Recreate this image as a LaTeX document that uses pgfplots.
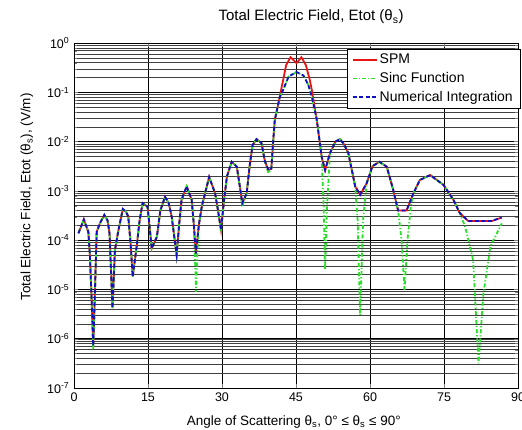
\documentclass[border=0pt]{standalone}
\usepackage{pgfplots}
\pgfplotsset{compat=1.18}
\usepackage{fontspec}
\setmainfont{Liberation Sans}
\definecolor{spmred}{RGB}{235,20,20}
\definecolor{sincgreen}{RGB}{40,225,40}
\definecolor{numblue}{RGB}{15,15,195}
\begin{document}
\fontsize{13.5}{16}\selectfont
\begin{tikzpicture}
\begin{axis}[at={(0,0)},anchor=south west,scale only axis,width=444pt,height=345pt,
  ymode=log,xmin=0,xmax=90,ymin=1e-7,ymax=1,
  xtick={0,15,30,45,60,75,90},
  ytick={1e-7,1e-6,1e-5,1e-4,1e-3,1e-2,1e-1,1},
  yticklabels={10\textsuperscript{-7},10\textsuperscript{-6},10\textsuperscript{-5},10\textsuperscript{-4},10\textsuperscript{-3},10\textsuperscript{-2},10\textsuperscript{-1},10\textsuperscript{0}},
  /pgf/number format/assume math mode=true,
  tick label style={font=\fontsize{12.5}{15}\selectfont},
  grid=both,minor x tick num=0,
  major grid style={black,line width=0.6pt},
  minor grid style={black!75,line width=0.4pt},
  tick align=inside,axis line style={black,line width=0.6pt},
  title={Total Electric Field, Etot (θ\textsubscript{s})},
  title style={at={(axis description cs:0.534,1)},anchor=base,yshift=16pt,inner sep=0pt,font=\fontsize{15}{18}\selectfont},
  xlabel={Angle of Scattering θ\textsubscript{s}, 0° ≤ θ\textsubscript{s} ≤ 90°},
  xlabel style={at={(axis description cs:0.495,0)},anchor=base,yshift=-37pt,inner sep=0pt},
  ylabel={Total Electric Field, Etot (θ\textsubscript{s}), (V/m)},
  ylabel style={at={(axis description cs:-0.106,0.554)},anchor=center,inner sep=0pt},
  legend style={at={(axis description cs:1,1)},anchor=north east,xshift=2pt,yshift=-6pt,
    draw=black,fill=white,font=\fontsize{14}{16}\selectfont,row sep=2.5pt,inner xsep=5pt,inner ysep=3pt},
  legend cell align=left,
  legend image code/.code={\draw[#1] (0pt,0pt) -- (24pt,0pt);},
]
% SPM
\addplot[spmred,line width=1.8pt] table {
x y
0.9 1.38e-4
2.0 2.63e-4
2.9 1.48e-4
3.2 5.37e-5
3.5 1.0e-5
3.9 7.1e-7
4.2 6.3e-6
4.6 1.48e-4
5.3 2.24e-4
6.15 3.24e-4
6.8 2.51e-4
7.2 1.38e-4
7.5 2.51e-5
7.8 4.17e-6
8.3 6.31e-5
9.0 1.58e-4
9.9 4.27e-4
10.5 3.8e-4
11.0 3.02e-4
11.5 7.94e-5
11.9 1.82e-5
12.7 7.41e-5
13.3 2.51e-4
13.9 5.62e-4
14.9 4.79e-4
15.3 2.0e-4
15.75 6.76e-5
16.8 1.17e-4
17.5 3.98e-4
18.45 7.59e-4
19.2 5.62e-4
19.8 3.02e-4
20.8 5.01e-5
21.3 2.0e-4
21.8 6.61e-4
22.84 1.23e-3
23.85 6.61e-4
24.3 2.0e-4
24.7 5.37e-5
25.3 2.0e-4
25.9 4.79e-4
27.4 1.91e-3
28.6 8.91e-4
29.2 3.98e-4
29.8 1.62e-4
30.4 6.31e-4
31.0 1.95e-3
31.96 3.89e-3
33.0 3.09e-3
33.6 1.26e-3
34.1 5.62e-4
35.0 8.91e-4
35.6 3.16e-3
36.2 8.51e-3
37.0 1.12e-2
38.0 9.33e-3
38.7 3.98e-3
39.4 2.63e-3
40.0 2.82e-3
40.3 7.94e-3
40.7 2.75e-2
41.7 7.94e-2
42.1 0.129
42.4 0.178
43.0 0.355
43.9 0.513
45.1 0.389
46.1 0.513
47.0 0.355
47.8 0.178
48.2 0.112
49.2 2.82e-2
50.2 4.9e-3
50.9 2.63e-3
51.9 5.89e-3
53.0 1.0e-2
53.9 1.12e-2
54.7 8.91e-3
55.6 5.89e-3
57.0 1.23e-3
58.0 8.32e-4
59.3 1.41e-3
60.5 3.16e-3
61.9 3.89e-3
63.4 3.09e-3
64.7 1.05e-3
65.7 3.98e-4
67.4 3.98e-4
68.8 8.91e-4
70.1 1.66e-3
72.2 2.09e-3
74.9 1.32e-3
76.9 6.61e-4
78.2 3.55e-4
79.9 2.45e-4
84.7 2.45e-4
86.7 2.88e-4
};
\addlegendentry{SPM}
% Sinc function
\addplot[sincgreen,line width=1.8pt,dash pattern=on 4pt off 2pt on 1.2pt off 2pt] table {
x y
0.9 1.38e-4
2.0 2.63e-4
2.9 1.48e-4
3.2 5.37e-5
3.5 1.0e-5
3.9 5.9e-7
4.2 6.3e-6
4.6 1.48e-4
5.3 2.24e-4
6.15 3.24e-4
6.8 2.51e-4
7.2 1.38e-4
7.5 2.51e-5
7.8 4.17e-6
8.3 6.31e-5
9.0 1.58e-4
9.9 4.27e-4
10.5 3.8e-4
11.0 3.02e-4
11.5 7.94e-5
11.9 1.82e-5
12.7 7.41e-5
13.3 2.51e-4
13.9 5.62e-4
14.9 4.79e-4
15.3 2.0e-4
15.75 6.76e-5
16.8 1.17e-4
17.5 3.98e-4
18.45 7.59e-4
19.2 5.62e-4
19.8 3.02e-4
20.8 5.01e-5
21.3 2.0e-4
21.8 6.61e-4
22.84 1.23e-3
23.85 6.61e-4
24.3 2.0e-4
24.5 5.01e-5
24.75 8.9e-6
25.0 5.01e-5
25.3 2.0e-4
25.9 4.79e-4
27.4 1.91e-3
28.6 8.91e-4
29.2 3.98e-4
29.8 1.48e-4
30.4 6.31e-4
31.0 1.95e-3
31.96 3.89e-3
33.0 3.09e-3
33.6 1.26e-3
34.1 4.79e-4
35.0 8.91e-4
35.6 3.16e-3
36.2 8.51e-3
37.0 1.12e-2
38.0 9.33e-3
38.7 3.98e-3
39.4 2.29e-3
40.0 2.82e-3
40.3 7.94e-3
40.7 2.75e-2
41.7 7.94e-2
42.4 0.112
43.5 0.209
45.1 0.257
46.5 0.219
47.5 0.141
48.2 8.13e-2
49.2 2.82e-2
50.2 4.9e-3
50.6 5.01e-4
50.9 2.51e-5
51.3 5.01e-4
51.9 5.89e-3
53.0 1.0e-2
53.9 1.12e-2
54.7 8.91e-3
55.6 5.89e-3
57.0 1.23e-3
57.5 2.51e-4
58.0 3.02e-6
58.6 2.51e-4
59.3 1.41e-3
60.5 3.16e-3
61.9 3.89e-3
63.4 3.09e-3
64.7 1.05e-3
65.7 3.98e-4
66.4 1.0e-4
67.0 9.77e-6
67.6 1.0e-4
68.3 5.01e-4
68.8 8.91e-4
70.1 1.66e-3
72.2 2.09e-3
74.9 1.32e-3
76.9 6.61e-4
78.2 3.55e-4
79.3 1.86e-4
80.9 3.98e-5
82.0 3.16e-7
83.0 8.32e-6
84.4 7.41e-5
86.7 2.19e-4
};
\addlegendentry{Sinc Function}
% Numerical integration
\addplot[numblue,line width=1.8pt,dash pattern=on 4pt off 2.5pt] table {
x y
0.9 1.38e-4
2.0 2.63e-4
2.9 1.48e-4
3.2 5.37e-5
3.5 1.0e-5
3.9 7.1e-7
4.2 6.3e-6
4.6 1.48e-4
5.3 2.24e-4
6.15 3.24e-4
6.8 2.51e-4
7.2 1.38e-4
7.5 2.51e-5
7.8 4.17e-6
8.3 6.31e-5
9.0 1.58e-4
9.9 4.27e-4
10.5 3.8e-4
11.0 3.02e-4
11.5 7.94e-5
11.9 1.82e-5
12.7 7.41e-5
13.3 2.51e-4
13.9 5.62e-4
14.9 4.79e-4
15.3 2.0e-4
15.75 6.76e-5
16.8 1.17e-4
17.5 3.98e-4
18.45 7.59e-4
19.2 5.62e-4
19.8 3.02e-4
20.8 5.01e-5
21.3 2.0e-4
21.8 6.61e-4
22.84 1.23e-3
23.85 6.61e-4
24.3 2.0e-4
24.7 5.37e-5
25.3 2.0e-4
25.9 4.79e-4
27.4 1.91e-3
28.6 8.91e-4
29.2 3.98e-4
29.8 1.62e-4
30.4 6.31e-4
31.0 1.95e-3
31.96 3.89e-3
33.0 3.09e-3
33.6 1.26e-3
34.1 5.62e-4
35.0 8.91e-4
35.6 3.16e-3
36.2 8.51e-3
37.0 1.12e-2
38.0 9.33e-3
38.7 3.98e-3
39.4 2.63e-3
40.0 2.82e-3
40.3 7.94e-3
40.7 2.75e-2
41.7 7.94e-2
42.4 0.112
43.5 0.209
45.1 0.257
46.5 0.219
47.5 0.141
48.2 8.13e-2
49.2 2.82e-2
50.2 4.9e-3
50.9 2.63e-3
51.9 5.89e-3
53.0 1.0e-2
53.9 1.12e-2
54.7 8.91e-3
55.6 5.89e-3
57.0 1.23e-3
58.0 8.32e-4
59.3 1.41e-3
60.5 3.16e-3
61.9 3.89e-3
63.4 3.09e-3
64.7 1.05e-3
65.7 3.98e-4
67.4 3.98e-4
68.8 8.91e-4
70.1 1.66e-3
72.2 2.09e-3
74.9 1.32e-3
76.9 6.61e-4
78.2 3.55e-4
79.9 2.45e-4
84.7 2.45e-4
86.7 2.88e-4
};
\addlegendentry{Numerical Integration}
\end{axis}
\pgfresetboundingbox
\path (-74pt,-42pt) rectangle (448pt,388pt);
\end{tikzpicture}
\end{document}
